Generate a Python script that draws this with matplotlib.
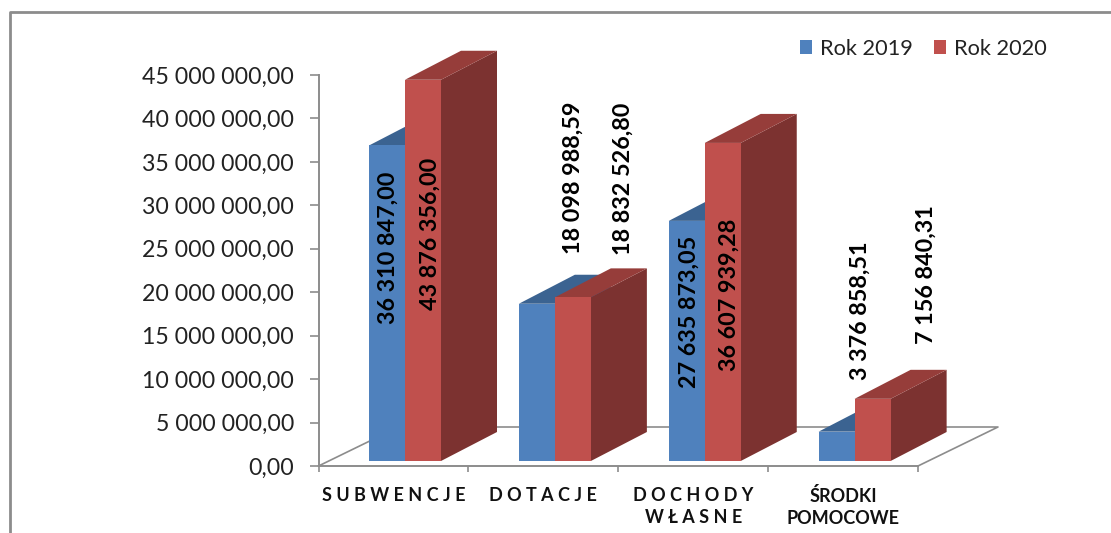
import matplotlib
matplotlib.use("Agg")
import matplotlib.pyplot as plt
from matplotlib.patches import Polygon, Patch
from matplotlib.lines import Line2D
from matplotlib.ticker import FuncFormatter

categories = ["S U B W E N C J E", "D O T A C J E", "D O C H O D Y\nW Ł A S N E", "ŚRODKI\nPOMOCOWE"]
series_names = ["Rok 2019", "Rok 2020"]
values_2019 = [36310847.00, 18098988.59, 27635873.05, 3376858.51]
values_2020 = [43876356.00, 18832526.80, 36607939.28, 7156840.31]
y_ticks = list(range(0, 45000001, 5000000))

# layout (pixels / styles)
W, H = 1111, 533
AX_L, AX_R, AX_B, AX_T = 318.5, 918.0, 466.0, 75.0
FONT = ["Lato", "DejaVu Sans"]
GREY = "#8c8c8c"
COL_FRONT = ["#4F81BD", "#C0504D"]
COL_TOP = ["#3B6391", "#963D3A"]
COL_SIDE = ["#3A5F8C", "#7C3230"]
# data-label offsets from front-bar base centre, in px (right, up)
LABEL_OFFSETS = [
    [(1, 213), (7, 227)], [(36, 283), (50, 282)],
    [(2, 149), (6, 166)], [(24, 150), (54, 186)],
]

plt.rcParams["font.family"] = FONT
fig = plt.figure(figsize=(W / 100, H / 100), dpi=100, facecolor="white")
ax = fig.add_axes([AX_L / W, 1 - AX_B / H, (AX_R - AX_L) / W, (AX_B - AX_T) / H])
ax.set_xlim(0, 4)
ax.set_ylim(0, 45000000)
ax.patch.set_visible(False)

px_x = 4 / (AX_R - AX_L)
px_y = 45000000 / (AX_B - AX_T)

# floor
fdx, fdy = 80 * px_x, 39 * px_y
ax.plot([0, fdx, 4 + fdx, 4], [0, fdy, fdy, 0], color=GREY, lw=1.2, clip_on=False, zorder=1)

# bars
bar_w = 36 * px_x
start = 50.5 * px_x
base = 5 * px_y
ddx, ddy = 56 * px_x, 29 * px_y
for i in range(len(categories)):
    for s, vals in enumerate([values_2019, values_2020]):
        x0 = i + start + s * bar_w
        x1 = x0 + bar_w
        v = vals[i]
        z = 3 + i * 3 + s * 3
        top = base + v
        ax.add_patch(Polygon([(x1, base), (x1 + ddx, base + ddy), (x1 + ddx, top + ddy), (x1, top)],
                             fc=COL_SIDE[s], ec="none", clip_on=False, zorder=z))
        ax.add_patch(Polygon([(x0, top), (x0 + ddx, top + ddy), (x1 + ddx, top + ddy), (x1, top)],
                             fc=COL_TOP[s], ec="none", clip_on=False, zorder=z))
        ax.bar(x0, v, width=bar_w, bottom=base, align="edge", color=COL_FRONT[s],
               clip_on=False, zorder=z + 1)
        ox, oy = LABEL_OFFSETS[i][s]
        ax.annotate(f"{v:,.2f}".replace(",", " ").replace(".", ","),
                    xy=(x0 + bar_w / 2, base), xytext=(ox * 0.72, oy * 0.72),
                    textcoords="offset points", rotation=90, ha="center", va="center",
                    fontsize=16.8, fontweight="bold", color="black", zorder=50,
                    annotation_clip=False)

# axes
for side in ("top", "right"):
    ax.spines[side].set_visible(False)
for side in ("left", "bottom"):
    ax.spines[side].set_color(GREY)
    ax.spines[side].set_linewidth(1.4)
ax.set_yticks(y_ticks)
ax.yaxis.set_major_formatter(FuncFormatter(lambda v, _: f"{v:,.2f}".replace(",", " ").replace(".", ",")))
ax.tick_params(axis="y", length=6.5, width=1.2, color=GREY, labelsize=16.7, labelcolor="#222222", pad=11)
ax.set_xticks(range(5))
ax.set_xticklabels([])
ax.set_xticks([i + 0.5 for i in range(4)], minor=True)
ax.set_xticklabels(categories, minor=True, fontsize=13, fontweight="bold", color="#111111",
                   linespacing=1.4, va="top")
ax.tick_params(axis="x", which="major", length=4, width=1.2, color=GREY)
ax.tick_params(axis="x", which="minor", length=0, pad=15)

# legend
handles = [Patch(fc=c, ec="none", label=n) for c, n in zip(COL_FRONT, series_names)]
fig.legend(handles=handles, loc="center right", bbox_to_anchor=(1047 / W, 1 - 49 / H), ncol=2,
           frameon=False, fontsize=15.7, handlelength=0.55, handleheight=0.6, handletextpad=0.37,
           columnspacing=0.96, labelcolor="#222222", borderpad=0, borderaxespad=0)

# chart-area border (left and top only, cropped at the other sides)
fig.add_artist(Line2D([10 / W, 10 / W, 1], [0, 1 - 11.5 / H, 1 - 11.5 / H], color=GREY, lw=2,
                      transform=fig.transFigure))

fig.savefig("out.png", dpi=100, facecolor="white")
